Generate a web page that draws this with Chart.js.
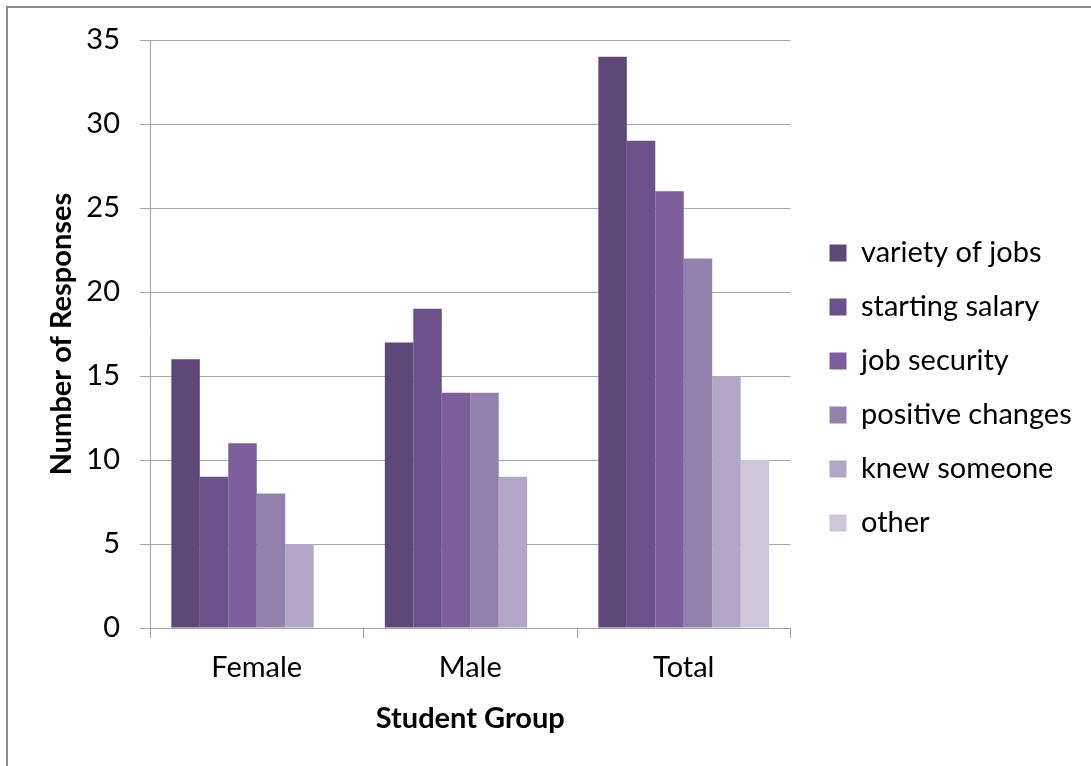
<!DOCTYPE html>
<html>
<head>
<meta charset="utf-8">
<script src="https://cdn.jsdelivr.net/npm/chart.js@4/dist/chart.umd.min.js"></script>
<style>
  html, body { margin: 0; padding: 0; background: #fff; }
  #wrap { position: relative; width: 1091px; height: 766px; overflow: hidden; }
  #frame { position: absolute; left: 6px; top: 6px; width: 1200px; height: 900px; border: 2px solid #8a8a8a; box-sizing: border-box; }
  #cv { position: absolute; left: 0; top: 0; }
</style>
</head>
<body>
<div id="wrap">
  <div id="frame"></div>
  <canvas id="cv" width="1091" height="766"></canvas>
</div>
<script>
const categories = ["Female", "Male", "Total"];
const seriesNames = ["variety of jobs", "starting salary", "job security", "positive changes", "knew someone", "other"];
const varietyOfJobs   = [16, 17, 34];
const startingSalary  = [9, 19, 29];
const jobSecurity     = [11, 14, 26];
const positiveChanges = [8, 14, 22];
const knewSomeone     = [5, 9, 15];
const other           = [null, null, 10];
const yTicks = [0, 5, 10, 15, 20, 25, 30, 35];

const seriesValues = [varietyOfJobs, startingSalary, jobSecurity, positiveChanges, knewSomeone, other];
const colors = ["#5d4878", "#6b5189", "#7b5e9a", "#9381ad", "#b1a6c5", "#cdc6da"];

const FONT = "Lato, 'Liberation Sans', sans-serif";

const legendShift = {
  id: 'legendShift',
  afterLayout(chart) {
    const lg = chart.legend;
    if (lg) { lg.left += 14; lg.right += 60; lg.top -= 15; lg.bottom -= 15; }
  }
};

new Chart(document.getElementById('cv'), {
  type: 'bar',
  data: {
    labels: categories,
    datasets: seriesNames.map((name, i) => ({
      label: name,
      data: seriesValues[i],
      backgroundColor: colors[i],
      borderWidth: 0,
      categoryPercentage: 0.8,
      barPercentage: 1.0
    }))
  },
  options: {
    responsive: false,
    animation: false,
    layout: { padding: { top: 40, left: 0, right: 37, bottom: 0 } },
    plugins: {
      tooltip: { enabled: false },
      legend: {
        position: 'right',
        labels: {
          boxWidth: 17,
          boxHeight: 17,
          padding: 25,
          color: '#000',
          font: { family: FONT, size: 29 }
        }
      }
    },
    scales: {
      x: {
        afterFit: s => { s.height = 138; },
        grid: { drawOnChartArea: false, drawTicks: true, tickLength: 10, color: '#a0a0a0', offset: true },
        border: { color: '#a0a0a0', width: 1 },
        ticks: { color: '#000', font: { family: FONT, size: 29 }, padding: 12 },
        title: { display: true, text: 'Student Group', color: '#000', font: { family: FONT, size: 29, weight: 'bold' }, padding: { top: 0, bottom: 30 } }
      },
      y: {
        min: 0, max: 35,
        afterFit: s => { s.width = 150; },
        afterBuildTicks: s => { s.ticks = yTicks.map(v => ({ value: v })); },
        grid: { color: '#a6a6a6', tickLength: 10, lineWidth: 1 },
        border: { color: '#a0a0a0', width: 1 },
        ticks: { color: '#000', font: { family: FONT, size: 29 }, padding: 20 },
        title: { display: true, text: 'Number of Responses', color: '#000', font: { family: FONT, size: 29, weight: 'bold' }, padding: { top: 44, bottom: 0 } }
      }
    }
  },
  plugins: [legendShift]
});
</script>
</body>
</html>
